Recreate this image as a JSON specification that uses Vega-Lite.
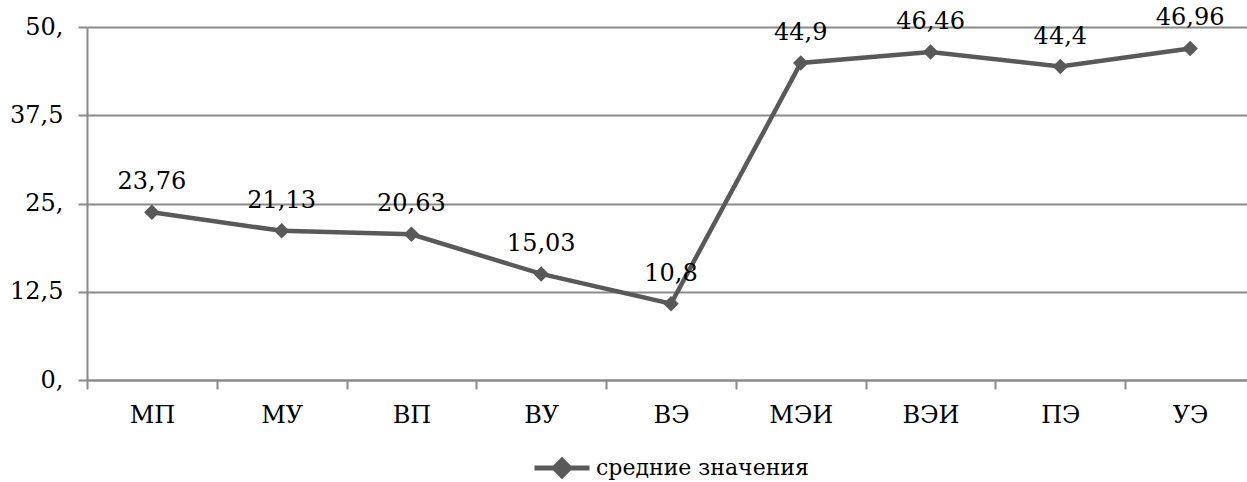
{
  "$schema": "https://vega.github.io/schema/vega-lite/v6.json",
  "width": 1160,
  "height": 353,
  "autosize": {"type": "none"},
  "padding": {"left": 87, "top": 27, "right": 0, "bottom": 102},
  "background": "white",
  "config": {
    "view": {"stroke": null},
    "font": "DejaVu Serif",
    "locale": {"number": {"decimal": ",", "thousands": " ", "grouping": [3], "currency": ["", " ₽"]}}
  },
  "data": {
    "values": [
      {"cat": "МП", "value": 23.76},
      {"cat": "МУ", "value": 21.13},
      {"cat": "ВП", "value": 20.63},
      {"cat": "ВУ", "value": 15.03},
      {"cat": "ВЭ", "value": 10.8},
      {"cat": "МЭИ", "value": 44.9},
      {"cat": "ВЭИ", "value": 46.46},
      {"cat": "ПЭ", "value": 44.4},
      {"cat": "УЭ", "value": 46.96}
    ]
  },
  "encoding": {
    "x": {
      "field": "cat",
      "type": "nominal",
      "sort": null,
      "scale": {"type": "band", "paddingInner": 0, "paddingOuter": 0, "range": [0, 1168]},
      "axis": {
        "title": null,
        "labelAngle": 0,
        "labelFont": "DejaVu Serif",
        "labelFontSize": 24,
        "labelColor": "#000000",
        "labelPadding": 14,
        "tickBand": "extent",
        "ticks": true,
        "tickSize": 9,
        "tickWidth": 2,
        "tickColor": "#8a8a8a",
        "domainColor": "#8a8a8a",
        "domainWidth": 2,
        "grid": false
      }
    },
    "y": {
      "field": "value",
      "type": "quantitative",
      "scale": {"domain": [0, 50], "nice": false, "zero": true},
      "axis": {
        "title": null,
        "values": [0, 12.5, 25, 37.5, 50],
        "labelExpr": "datum.value % 1 == 0 ? toString(datum.value) + ',' : replace(toString(datum.value), '.', ',')",
        "labelFont": "DejaVu Serif",
        "labelFontSize": 24,
        "labelColor": "#000000",
        "labelPadding": 15,
        "tickSize": 9,
        "tickWidth": 2,
        "tickColor": "#8a8a8a",
        "domainColor": "#8a8a8a",
        "domainWidth": 2,
        "grid": true,
        "gridColor": "#8a8a8a",
        "gridWidth": 2
      }
    }
  },
  "layer": [
    {
      "mark": {"type": "line", "strokeWidth": 4.5},
      "encoding": {
        "color": {
          "datum": "средние значения",
          "scale": {"range": ["#595959"]},
          "legend": {
            "title": null,
            "orient": "none",
            "legendX": 445,
            "legendY": 411,
            "padding": 0,
            "symbolType": "M-1,0L1,0M-0.28,0L0,-0.28L0.28,0L0,0.28Z",
            "symbolSize": 3025,
            "symbolStrokeWidth": 5,
            "symbolFillColor": "#595959",
            "labelFont": "DejaVu Serif",
            "labelFontSize": 22,
            "labelColor": "#000000",
            "labelOffset": 4,
            "labelLimit": 0,
            "encode": {"symbols": {"update": {"fill": {"value": "#595959"}, "stroke": {"value": "#595959"}, "strokeWidth": {"value": 5}}}}
          }
        }
      }
    },
    {
      "mark": {"type": "point", "shape": "diamond", "filled": true, "size": 240, "color": "#595959", "opacity": 1}
    },
    {
      "mark": {"type": "text", "dy": -23, "baseline": "alphabetic", "align": "center", "font": "DejaVu Serif", "fontSize": 24, "color": "#000000"},
      "encoding": {"text": {"field": "value", "type": "quantitative", "format": "~g"}}
    }
  ]
}
